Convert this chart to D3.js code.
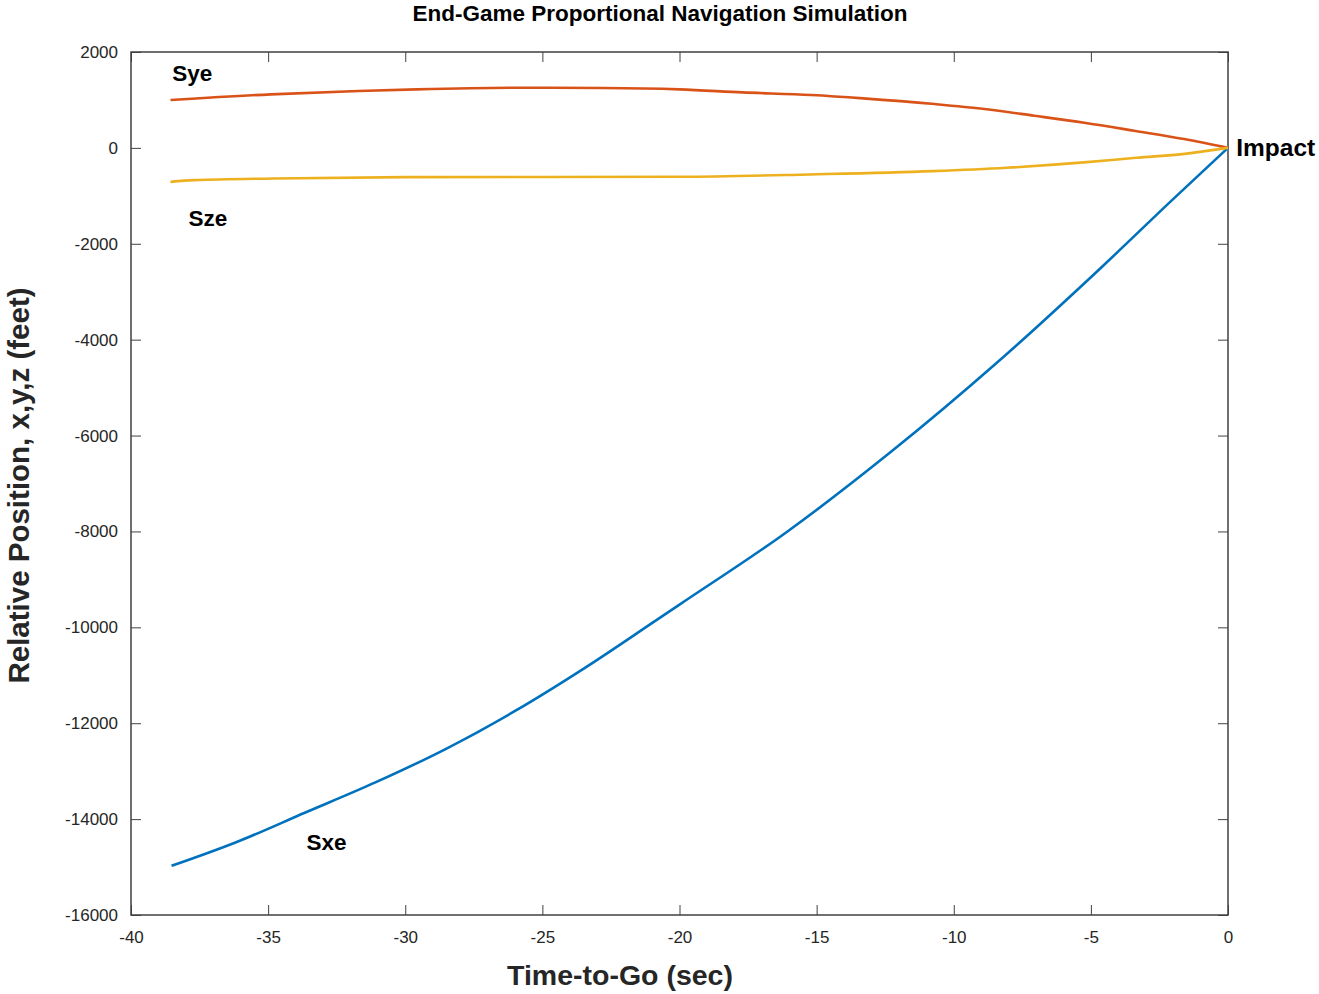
<!DOCTYPE html>
<html>
<head>
<meta charset="utf-8">
<script src="https://cdn.jsdelivr.net/npm/d3@7"></script>
<style>
  body { margin: 0; background: #fff; }
  text { font-family: "Liberation Sans", Arial, sans-serif; }
  .axis text { font-size: 17px; fill: #262626; }
  .axis path, .axis line { stroke: #404040; }
</style>
</head>
<body>
<div id="chart"></div>
<script>
// values (time-to-go in sec, position in feet)
const sxeTime = [-38.52, -36.19, -33.64, -31.09, -28.53, -25.98, -23.42, -20.87, -20, -16.1, -12.3, -8.44, -4.6, -2.04, 0];
const sxeValues = [-14975, -14488, -13862, -13235, -12539, -11739, -10834, -9860, -9526, -8016, -6345, -4487, -2483, -1090, 0];

const syeTime = [-38.56, -34.9, -31.7, -29.6, -25.96, -22.8, -20, -17.7, -15.2, -13.3, -10.7, -8.88, -7.06, -5.24, -3.42, -1.6, 0];
const syeValues = [998, 1117, 1186, 1221, 1255, 1250, 1221, 1158, 1102, 1033, 914, 810, 670, 524, 357, 184, 0];

const szeTime = [-38.56, -37.7, -34.8, -29.6, -20, -15.24, -10.76, -8.08, -5.26, -3.35, -1.43, 0];
const szeValues = [-708, -673, -637, -610, -603, -554, -485, -415, -303, -207, -115, 0];

const xTicks = [-40, -35, -30, -25, -20, -15, -10, -5, 0];
const yTicks = [2000, 0, -2000, -4000, -6000, -8000, -10000, -12000, -14000, -16000];

const seriesNames = ["Sxe", "Sye", "Sze"];
const seriesColors = ["#0072BD", "#D95319", "#EDB120"];

// label anchor points in data units
const labelNames = ["Sye", "Sze", "Sxe", "Impact"];
const labelTime = [-38.5, -37.9, -33.6, 0.3];
const labelValues = [1560, -1470, -14480, 0];

const width = 1319, height = 994;
const margin = {top: 52, right: 91, bottom: 79, left: 131};

const svg = d3.select("#chart").append("svg")
    .attr("width", width)
    .attr("height", height);

const x = d3.scaleLinear().domain([-40, 0]).range([margin.left, width - margin.right]);
const y = d3.scaleLinear().domain([-16000, 2000]).range([height - margin.bottom, margin.top]);

const plain = d => String(d);

// axes with inward ticks, like a matlab box
svg.append("g")
    .attr("class", "axis")
    .attr("transform", `translate(0,${height - margin.bottom})`)
    .call(d3.axisBottom(x).tickValues(xTicks).tickFormat(plain).tickSizeInner(-10).tickSizeOuter(0).tickPadding(16))
    .call(g => g.select(".domain").remove());

svg.append("g")
    .attr("class", "axis")
    .attr("transform", `translate(${margin.left},0)`)
    .call(d3.axisLeft(y).tickValues(yTicks).tickFormat(plain).tickSizeInner(-10).tickSizeOuter(0).tickPadding(13))
    .call(g => g.select(".domain").remove());

svg.append("g")
    .attr("class", "axis")
    .attr("transform", `translate(0,${margin.top})`)
    .call(d3.axisTop(x).tickValues(xTicks).tickSizeInner(-10).tickSizeOuter(0).tickFormat(""))
    .call(g => g.select(".domain").remove());

svg.append("g")
    .attr("class", "axis")
    .attr("transform", `translate(${width - margin.right},0)`)
    .call(d3.axisRight(y).tickValues(yTicks).tickSizeInner(-10).tickSizeOuter(0).tickFormat(""))
    .call(g => g.select(".domain").remove());

// box
svg.append("rect")
    .attr("x", x(-40))
    .attr("y", y(2000))
    .attr("width", x(0) - x(-40))
    .attr("height", y(-16000) - y(2000))
    .attr("fill", "none")
    .attr("stroke", "#404040")
    .attr("stroke-width", 1.5);

// lines
const series = [
    {name: seriesNames[0], t: sxeTime, v: sxeValues, color: seriesColors[0]},
    {name: seriesNames[1], t: syeTime, v: syeValues, color: seriesColors[1]},
    {name: seriesNames[2], t: szeTime, v: szeValues, color: seriesColors[2]}
];

const line = d3.line()
    .x(d => x(d[0]))
    .y(d => y(d[1]))
    .curve(d3.curveMonotoneX);

svg.selectAll(".series")
    .data(series)
    .enter()
    .append("path")
    .attr("class", "series")
    .attr("d", d => line(d.t.map((t, i) => [t, d.v[i]])))
    .attr("fill", "none")
    .attr("stroke", d => d.color)
    .attr("stroke-width", 2.6);

// curve labels
svg.selectAll(".lbl")
    .data(labelNames)
    .enter()
    .append("text")
    .attr("class", "lbl")
    .attr("x", (d, i) => x(labelTime[i]))
    .attr("y", (d, i) => y(labelValues[i]))
    .attr("dy", "0.35em")
    .style("font-size", d => d === "Impact" ? "24.5px" : "22.5px")
    .style("font-weight", "bold")
    .style("fill", "#000")
    .text(d => d);

// title
svg.append("text")
    .attr("x", 660)
    .attr("y", 21)
    .attr("text-anchor", "middle")
    .style("font-size", "22.5px")
    .style("font-weight", "bold")
    .text("End-Game Proportional Navigation Simulation");

// axis labels
svg.append("text")
    .attr("x", 620)
    .attr("y", 985)
    .attr("text-anchor", "middle")
    .style("font-size", "28.5px")
    .style("font-weight", "bold")
    .style("fill", "#262626")
    .text("Time-to-Go (sec)");

svg.append("text")
    .attr("transform", `translate(29,${(margin.top + height - margin.bottom) / 2 + 2}) rotate(-90)`)
    .attr("text-anchor", "middle")
    .style("font-size", "29.5px")
    .style("font-weight", "bold")
    .style("fill", "#262626")
    .text("Relative Position, x,y,z (feet)");
</script>
</body>
</html>
